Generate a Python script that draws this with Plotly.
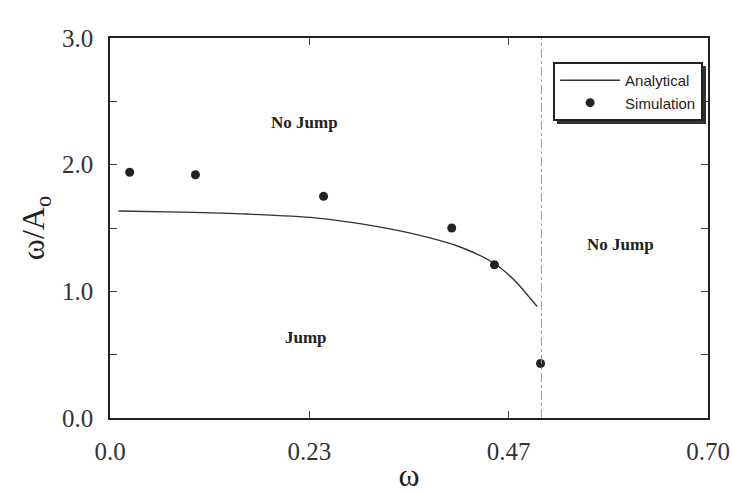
import plotly.graph_objects as go

# Analytical jump boundary (omega vs omega/A0)
analytic_w = [0.010, 0.084, 0.16, 0.24, 0.31, 0.37, 0.41, 0.45, 0.476, 0.49, 0.50]
analytic_r = [1.634, 1.625, 1.61, 1.58, 1.515, 1.43, 1.35, 1.22, 1.07, 0.96, 0.88]

# Simulation results
sim_w = [0.023, 0.10, 0.25, 0.40, 0.45, 0.504]
sim_r = [1.94, 1.92, 1.75, 1.50, 1.21, 0.43]

# Boundary of the right-hand "No Jump" region
limit_w = 0.505

x_tickvals = [0.0, 0.7 / 3, 1.4 / 3, 0.70]
x_ticktext = ["0.0", "0.23", "0.47", "0.70"]
y_tickvals = [0.0, 1.0, 2.0, 3.0]

region_labels = ["No Jump", "Jump", "No Jump"]
region_w = [0.228, 0.23, 0.597]
region_r = [2.33, 0.635, 1.37]

fig = go.Figure()

fig.add_trace(go.Scatter(
    x=analytic_w, y=analytic_r, mode="lines", name="Analytical",
    line=dict(color="#333333", width=1.4, shape="spline", smoothing=0.8),
))
fig.add_trace(go.Scatter(
    x=sim_w, y=sim_r, mode="markers", name="Simulation",
    marker=dict(color="#222222", size=9),
))

fig.add_shape(type="line", xref="x", yref="y", x0=limit_w, x1=limit_w, y0=0, y1=3,
              line=dict(color="#999999", width=1, dash="dashdot"))

# Drop shadow behind the legend box
fig.add_shape(type="rect", xref="paper", yref="paper",
              x0=0.7475, x1=0.9967, y0=0.774, y1=0.926,
              fillcolor="#333333", line=dict(width=0), layer="above")

for txt, xw, yr in zip(region_labels, region_w, region_r):
    fig.add_annotation(x=xw, y=yr, text=f"<b>{txt}</b>", showarrow=False,
                       font=dict(family="Liberation Serif", size=17, color="#222222"))

axis_common = dict(
    showline=True, linecolor="#222222", linewidth=1.5, mirror="ticks",
    ticks="inside", ticklen=7, tickcolor="#444444", tickwidth=1,
    showgrid=False, zeroline=False, automargin=False,
    tickfont=dict(family="Liberation Serif", size=25, color="#333333"),
)

fig.update_xaxes(
    range=[0, 0.70], tickmode="array", tickvals=x_tickvals, ticktext=x_ticktext,
    ticklabelstandoff=10, ticklabeloverflow="allow",
    title=dict(text="ω", font=dict(family="Liberation Serif", size=32, color="#222222"),
               standoff=2),
    **axis_common,
)
fig.update_yaxes(
    range=[0, 3.0], tickmode="array", tickvals=y_tickvals, tickformat=".1f",
    ticklabelstandoff=10, ticklabeloverflow="allow",
    minor=dict(dtick=0.5, ticks="inside", ticklen=7, tickcolor="#444444"),
    title=dict(text="ω/A<sub>o</sub>", font=dict(family="Liberation Serif", size=32, color="#222222"),
               standoff=8),
    **axis_common,
)

fig.update_layout(
    width=732, height=493,
    margin=dict(l=110, r=24, t=38, b=75, autoexpand=False),
    paper_bgcolor="white", plot_bgcolor="white",
    showlegend=True,
    legend=dict(
        x=0.741, y=0.937, xanchor="left", yanchor="top",
        bgcolor="white", bordercolor="#222222", borderwidth=2,
        font=dict(family="Liberation Sans", size=15, color="#222222"),
        itemwidth=60, tracegroupgap=0,
    ),
)

fig.write_html("out.html")
